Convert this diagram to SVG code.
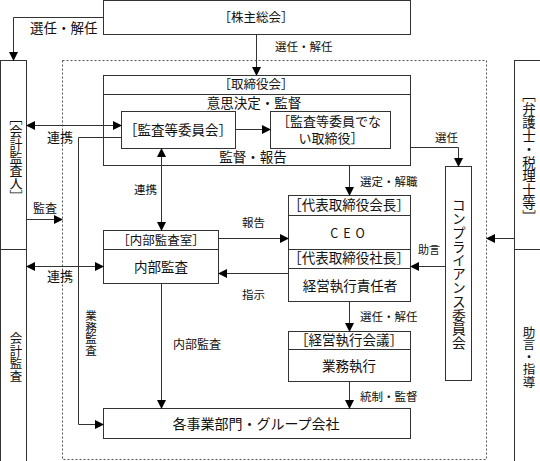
<svg xmlns="http://www.w3.org/2000/svg" width="540" height="461" viewBox="0 0 540 461">
<defs>
<marker id="ah" markerUnits="userSpaceOnUse" markerWidth="9" markerHeight="9" refX="8" refY="4.5" orient="auto-start-reverse">
<path d="M0,0 L9,4.5 L0,9 z" fill="#000"/>
</marker>
<style>
text{font-family:"Noto Sans CJK JP","Noto Sans",sans-serif;fill:#111;}
.box{fill:#fff;stroke:#333;stroke-width:1;}
.ln{fill:none;stroke:#333;stroke-width:1;}
.c{stroke:#333;stroke-width:1;fill:none;}
.a{marker-end:url(#ah);}
.d{marker-start:url(#ah);marker-end:url(#ah);}
.dash{fill:none;stroke:#555;stroke-width:1;stroke-dasharray:2,2;}
.t12{font-size:12.5px;text-anchor:middle;}
.t14{font-size:13.5px;text-anchor:middle;}
.l11{font-size:11.5px;}
.l13{font-size:13px;}
.v{writing-mode:vertical-rl;text-anchor:middle;}
</style>
</defs>
<rect width="540" height="461" fill="#fff"/>
<rect class="dash" x="62.5" y="60.5" width="424" height="399"/>

<g id="shareholders">
<rect class="box" x="103.5" y="0.5" width="307" height="34"/>
<text class="t12" x="256" y="22">［株主総会］</text>
</g>

<g id="auditor">
<rect class="box" x="0.5" y="60.5" width="26" height="189"/>
<text class="v" x="16" y="157" style="font-size:13px">［会計監査人］</text>
</g>
<g id="accounting-audit">
<rect class="box" x="0.5" y="249.5" width="26" height="215"/>
<text class="v" x="16" y="357" style="font-size:12.5px">会計監査</text>
</g>

<g id="lawyers">
<rect class="box" x="514.5" y="60.5" width="30" height="189"/>
<text class="v" x="529" y="156" style="font-size:13.5px">［弁護士・税理士等］</text>
</g>
<g id="advice">
<rect class="box" x="514.5" y="249.5" width="30" height="215"/>
<text class="v" x="529" y="357" style="font-size:12.5px">助言・指導</text>
</g>

<g id="board">
<rect class="box" x="103.5" y="75.5" width="307" height="90"/>
<line class="ln" x1="103.5" y1="94.5" x2="410.5" y2="94.5"/>
<text class="t12" x="256" y="89">［取締役会］</text>
<text class="t14" x="254" y="108">意思決定・監督</text>
<text class="t14" x="253" y="162">監督・報告</text>
</g>

<g id="audit-committee">
<rect class="box" x="121.5" y="111.5" width="114" height="37"/>
<text class="t14" x="178" y="135">［監査等委員会］</text>
</g>

<g id="other-directors">
<rect class="box" x="270.5" y="111.5" width="120" height="37"/>
<text class="t14" style="font-size:13px"><tspan x="329" y="126">［監査等委員でな</tspan><tspan x="331" y="143">い取締役］</tspan></text>
</g>

<g id="internal-audit">
<rect class="box" x="103.5" y="230.5" width="115" height="53"/>
<line class="ln" x1="103.5" y1="249.5" x2="218.5" y2="249.5"/>
<text class="t12" x="161" y="245">［内部監査室］</text>
<text class="t14" x="161" y="272">内部監査</text>
</g>

<g id="ceo">
<rect class="box" x="288.5" y="195.5" width="122" height="106"/>
<line class="ln" x1="288.5" y1="215.5" x2="410.5" y2="215.5"/>
<line class="ln" x1="288.5" y1="249.5" x2="410.5" y2="249.5"/>
<line class="ln" x1="288.5" y1="268.5" x2="410.5" y2="268.5"/>
<text class="t12" x="349" y="210" style="font-size:13.5px">［代表取締役会長］</text>
<text class="t12" x="350" y="238" style="letter-spacing:5px">CEO</text>
<text class="t12" x="349" y="263" style="font-size:13.5px">［代表取締役社長］</text>
<text class="t14" x="350" y="291">経営執行責任者</text>
</g>

<g id="compliance">
<rect class="box" x="445.5" y="166.5" width="26" height="214"/>
<text class="v" x="459" y="274" style="font-size:13.8px">コンプライアンス委員会</text>
</g>

<g id="exec-meeting">
<rect class="box" x="288.5" y="331.5" width="122" height="50"/>
<line class="ln" x1="288.5" y1="349.5" x2="410.5" y2="349.5"/>
<text class="t12" x="349" y="345" style="font-size:13.5px">［経営執行会議］</text>
<text class="t14" x="349" y="371">業務執行</text>
</g>

<g id="business-units">
<rect class="box" x="103.5" y="408.5" width="307" height="30"/>
<text class="t14" x="256" y="429" style="font-size:14px">各事業部門・グループ会社</text>
</g>

<g id="connectors">
<polyline class="c a" points="103.5,17.5 13.5,17.5 13.5,60"/>
<line class="c a" x1="256.5" y1="34.5" x2="256.5" y2="75"/>
<line class="c d" x1="27" y1="125.5" x2="121" y2="125.5"/>
<line class="c a" x1="235.5" y1="129.5" x2="270" y2="129.5"/>
<polyline class="c a" points="121.5,137.5 78.5,137.5 78.5,424.5 103,424.5"/>
<line class="c d" x1="161.5" y1="149" x2="161.5" y2="230"/>
<line class="c a" x1="27" y1="219.5" x2="62" y2="219.5"/>
<line class="c d" x1="27" y1="266.5" x2="103" y2="266.5"/>
<line class="c a" x1="218.5" y1="238.5" x2="288" y2="238.5"/>
<line class="c a" x1="288.5" y1="273.5" x2="219" y2="273.5"/>
<line class="c a" x1="349.5" y1="166" x2="349.5" y2="195"/>
<polyline class="c a" points="410.5,147.5 458.5,147.5 458.5,166"/>
<line class="c a" x1="445.5" y1="266.5" x2="411" y2="266.5"/>
<line class="c a" x1="514.5" y1="238.5" x2="487" y2="238.5"/>
<line class="c a" x1="349.5" y1="302" x2="349.5" y2="331"/>
<line class="c a" x1="349.5" y1="382" x2="349.5" y2="408"/>
<line class="c a" x1="161.5" y1="284" x2="161.5" y2="408"/>

<text class="l13" x="30" y="33" style="font-size:13.5px">選任・解任</text>
<text class="l11" x="275" y="51">選任・解任</text>
<text class="l13" x="47" y="142">連携</text>
<text class="l11" x="134" y="194">連携</text>
<text class="l11" x="33" y="213" style="font-size:12px">監査</text>
<text class="l13" x="47" y="281">連携</text>
<text class="l11" x="242" y="227">報告</text>
<text class="l11" x="242" y="299">指示</text>
<text class="l11" x="360" y="186">選定・解職</text>
<text class="l11" x="435" y="142">選任</text>
<text class="l11" x="418" y="254" style="font-size:11px">助言</text>
<text class="l11" x="360" y="321">選任・解任</text>
<text class="l11" x="360" y="401">統制・監督</text>
<text class="l11" x="173" y="349" style="font-size:12px">内部監査</text>
<text class="v" x="91" y="333" style="font-size:11.5px">業務監査</text>
</g>
</svg>
